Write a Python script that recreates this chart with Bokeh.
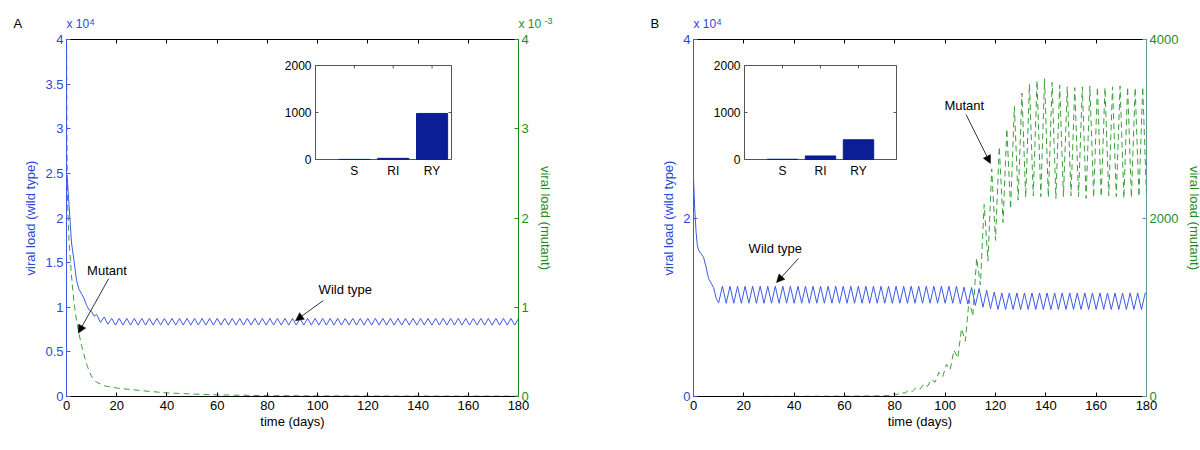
from bokeh.plotting import figure
from bokeh.models import (Range1d, LinearAxis, FixedTicker, Label, Arrow, NormalHead,
                          NumeralTickFormatter, CustomJSTickFormatter)
from bokeh.layouts import row, column
from bokeh.core.properties import value
from bokeh.embed import file_html
from bokeh.resources import INLINE

# ---------------- data ----------------
time_ticks = [0, 20, 40, 60, 80, 100, 120, 140, 160, 180]
categories = ["S", "RI", "RY"]
inset_ticks = [0, 1000, 2000]

# Panel A : wild type (x 10^4)
wt_A_t = [0, 0.3, 1, 2, 3, 4, 5, 6, 7, 8, 9, 10, 11, 12, 13.5, 15, 16.5,
          18, 19.5, 21, 22.5, 24, 25.5, 27, 28.5, 30, 31.5, 33, 34.5,
          36, 37.5, 39, 40.5, 42, 43.5, 45, 46.5, 48, 49.5, 51, 52.5,
          54, 55.5, 57, 58.5, 60, 61.5, 63, 64.5, 66, 67.5, 69, 70.5,
          72, 73.5, 75, 76.5, 78, 79.5, 81, 82.5, 84, 85.5, 87, 88.5,
          90, 91.5, 93, 94.5, 96, 97.5, 99, 100.5, 102, 103.5, 105, 106.5,
          108, 109.5, 111, 112.5, 114, 115.5, 117, 118.5, 120, 121.5, 123, 124.5,
          126, 127.5, 129, 130.5, 132, 133.5, 135, 136.5, 138, 139.5, 141, 142.5,
          144, 145.5, 147, 148.5, 150, 151.5, 153, 154.5, 156, 157.5, 159, 160.5,
          162, 163.5, 165, 166.5, 168, 169.5, 171, 172.5, 174, 175.5, 177, 178.5,
          180]
wt_A_v = [2.30, 2.45, 2.15, 1.72, 1.52, 1.30, 1.20, 1.15, 1.10, 1.02, 0.97, 0.95, 0.90, 0.92, 0.83, 0.89, 0.81,
          0.875, 0.80, 0.875, 0.80, 0.875, 0.80, 0.875, 0.80, 0.875, 0.80, 0.875, 0.80,
          0.875, 0.80, 0.875, 0.80, 0.875, 0.80, 0.875, 0.80, 0.875, 0.80, 0.875, 0.80,
          0.875, 0.80, 0.875, 0.80, 0.875, 0.80, 0.875, 0.80, 0.875, 0.80, 0.875, 0.80,
          0.875, 0.80, 0.875, 0.80, 0.875, 0.80, 0.875, 0.80, 0.875, 0.80, 0.875, 0.80,
          0.875, 0.80, 0.875, 0.80, 0.875, 0.80, 0.875, 0.80, 0.875, 0.80, 0.875, 0.80,
          0.875, 0.80, 0.875, 0.80, 0.875, 0.80, 0.875, 0.80, 0.875, 0.80, 0.875, 0.80,
          0.875, 0.80, 0.875, 0.80, 0.875, 0.80, 0.875, 0.80, 0.875, 0.80, 0.875, 0.80,
          0.875, 0.80, 0.875, 0.80, 0.875, 0.80, 0.875, 0.80, 0.875, 0.80, 0.875, 0.80,
          0.875, 0.80, 0.875, 0.80, 0.875, 0.80, 0.875, 0.80, 0.875, 0.80, 0.875, 0.80,
          0.875]

# Panel A : mutant (x 10^-3)
mut_A_t = [0, 0.15, 0.4, 1, 2, 3, 4, 5, 6, 8, 10, 12, 15, 20, 25, 30, 40, 50, 60, 80, 100, 130, 180]
mut_A_v = [4.5, 3.0, 2.2, 1.75, 1.35, 1.05, 0.85, 0.70, 0.57, 0.36, 0.22, 0.16, 0.12, 0.095, 0.08,
           0.065, 0.04, 0.028, 0.018, 0.01, 0.007, 0.005, 0.004]

# Panel B : wild type (x 10^4)
wt_B_t = [0, 0.5, 1, 1.5, 2, 3, 4, 5, 6, 7, 8, 9, 10,
          11.5, 13, 14.5, 16, 17.5, 19, 20.5, 22, 23.5, 25, 26.5, 28,
          29.5, 31, 32.5, 34, 35.5, 37, 38.5, 40, 41.5, 43, 44.5, 46,
          47.5, 49, 50.5, 52, 53.5, 55, 56.5, 58, 59.5, 61, 62.5, 64,
          65.5, 67, 68.5, 70, 71.5, 73, 74.5, 76, 77.5, 79, 80.5, 82,
          83.5, 85, 86.5, 88, 89.5, 91, 92.5, 94, 95.5, 97, 98.5, 100,
          101.5, 103, 104.5, 106, 107.5, 109, 110.5, 112, 113.5, 115, 116.5, 118,
          119.5, 121, 122.5, 124, 125.5, 127, 128.5, 130, 131.5, 133, 134.5, 136,
          137.5, 139, 140.5, 142, 143.5, 145, 146.5, 148, 149.5, 151, 152.5, 154,
          155.5, 157, 158.5, 160, 161.5, 163, 164.5, 166, 167.5, 169, 170.5, 172,
          173.5, 175, 176.5, 178, 179.5, 180]
wt_B_v = [2.45, 2.10, 1.85, 1.70, 1.64, 1.60, 1.56, 1.45, 1.32, 1.27, 1.22, 1.10, 1.05,
          1.235, 1.045, 1.235, 1.045, 1.235, 1.045, 1.235, 1.045, 1.235, 1.045, 1.235, 1.045,
          1.235, 1.045, 1.235, 1.045, 1.235, 1.045, 1.235, 1.045, 1.235, 1.045, 1.235, 1.045,
          1.235, 1.045, 1.235, 1.045, 1.235, 1.045, 1.235, 1.045, 1.235, 1.045, 1.235, 1.045,
          1.235, 1.045, 1.235, 1.045, 1.235, 1.045, 1.235, 1.045, 1.235, 1.045, 1.235, 1.045,
          1.235, 1.045, 1.235, 1.045, 1.235, 1.045, 1.235, 1.045, 1.235, 1.045, 1.235, 1.045,
          1.235, 1.045, 1.235, 1.04, 1.225, 1.035, 1.22, 1.02, 1.21, 1.00, 1.19, 0.985,
          1.17, 0.975, 1.16, 0.975, 1.16, 0.975, 1.16, 0.975, 1.16, 0.975, 1.16, 0.975,
          1.16, 0.975, 1.16, 0.975, 1.16, 0.975, 1.16, 0.975, 1.16, 0.975, 1.16, 0.975,
          1.16, 0.975, 1.16, 0.975, 1.16, 0.975, 1.16, 0.975, 1.16, 0.975, 1.16, 0.975,
          1.16, 0.975, 1.16, 0.975, 1.16, 1.15]

# Panel B : mutant (absolute)
mut_B_t = [0, 40, 60, 70, 75,
           78, 79.5, 81, 82.5, 84, 85.5, 87, 88.5, 90, 91.5, 93, 94.5,
           96, 97.5, 99, 100.5, 102, 103.5, 105, 106.5, 108, 109.5, 111, 112.5,
           114, 115.5, 117, 118.5, 120, 121.5, 123, 124.5, 126, 127.5, 129, 130.5,
           132, 133.5, 135, 136.5, 138, 139.5, 141, 142.5, 144, 145.5, 147, 148.5,
           150, 151.5, 153, 154.5, 156, 157.5, 159, 160.5, 162, 163.5, 165, 166.5,
           168, 169.5, 171, 172.5, 174, 175.5, 177, 178.5, 180]
mut_B_v = [0, 2, 4, 6, 8,
           10, 28, 22, 45, 38, 70, 58, 100, 82, 140, 115, 190,
           160, 270, 220, 360, 300, 520, 430, 760, 620, 1080, 900, 1550,
           1250, 2150, 1520, 2550, 1750, 2800, 1950, 3000, 2100, 3250, 2200, 3400,
           2230, 3500, 2250, 3540, 2240, 3560, 2230, 3520, 2220, 3490, 2240, 3470,
           2250, 3460, 2240, 3470, 2220, 3480, 2230, 3470, 2240, 3460, 2250, 3470,
           2240, 3480, 2220, 3470, 2230, 3460, 2240, 3470, 2250]

# Insets (bar charts)
inset_A = [2, 25, 980]
inset_B = [5, 75, 420]

# ---------------- style ----------------
FONT = "Liberation Sans"
BLUE_LINE = "#3d5ae6"
BLUE_TXT = "#2b48d6"
GREEN_LINE = "#3a9f3a"
GREEN_TXT = "#1f8c1f"
BAR = "#0c1e96"
INSET_EDGE = "#555555"
FH = 357
HEAD_H = 31


def style_axis(ax, line_color, text_color):
    ax.axis_line_color = line_color
    ax.major_tick_line_color = line_color
    ax.major_tick_in = 4
    ax.major_tick_out = 0
    ax.minor_tick_line_color = None
    ax.major_label_text_color = text_color
    ax.major_label_text_font = FONT
    ax.major_label_text_font_size = "13px"
    ax.major_label_standoff = 3
    ax.axis_label_text_font = FONT
    ax.axis_label_text_font_size = "13px"
    ax.axis_label_text_font_style = "normal"
    ax.axis_label_text_color = text_color


def make_panel(cfg):
    fw = cfg["fw"]
    p = figure(frame_width=fw, frame_height=FH, output_backend="svg", toolbar_location=None,
               x_range=Range1d(0, 180), y_range=Range1d(0, 4),
               min_border_left=cfg["mbl"], min_border_right=cfg["mbr"],
               min_border_top=39 - HEAD_H, min_border_bottom=46)
    p.title.visible = False
    p.outline_line_color = None
    p.xgrid.visible = False
    p.ygrid.visible = False
    p.background_fill_color = "white"
    p.border_fill_color = "white"

    # inset placement (frame pixels) -> extra ranges
    il, ir, it, ib = cfg["inset_box"]
    xmax = cfg["inset_xmax"]
    kx = xmax / (ir - il)
    xs = -il * kx
    ky = 2000.0 / (ib - it)
    ys = -(FH - ib) * ky
    p.extra_x_ranges = {"insx": Range1d(xs, xs + fw * kx)}
    p.extra_y_ranges = {"mut": Range1d(0, cfg["rmax"]), "insy": Range1d(ys, ys + FH * ky)}

    # bottom axis
    xa = p.xaxis[0]
    xa.ticker = FixedTicker(ticks=time_ticks)
    xa.axis_label = "time (days)"
    style_axis(xa, "black", "black")
    xa.major_label_standoff = 4
    xa.axis_label_standoff = 1

    # top axis (box ticks only)
    ta = LinearAxis(ticker=FixedTicker(ticks=time_ticks),
                    formatter=CustomJSTickFormatter(code="return ''"))
    style_axis(ta, "black", "black")
    ta.major_label_text_font_size = "0px"
    ta.major_label_standoff = 0
    p.add_layout(ta, "above")

    # left axis
    ya = p.yaxis[0]
    ya.ticker = FixedTicker(ticks=cfg["lticks"])
    ya.formatter = NumeralTickFormatter(format="0.[0]")
    ya.axis_label = "viral load (wild type)"
    style_axis(ya, BLUE_LINE, BLUE_TXT)
    ya.axis_label_standoff = 4

    # right axis
    ra = LinearAxis(y_range_name="mut", ticker=FixedTicker(ticks=cfg["rticks"]),
                    formatter=NumeralTickFormatter(format="0.[0]"),
                    axis_label="viral load (mutant)")
    style_axis(ra, cfg["raxis_color"], GREEN_TXT)
    ra.axis_label_standoff = 6
    p.add_layout(ra, "right")

    # curves
    p.line(cfg["mut_t"], cfg["mut_v"], y_range_name="mut", line_color=GREEN_LINE,
           line_width=1, line_dash="6 4")
    p.line(cfg["wt_t"], cfg["wt_v"], line_color=BLUE_LINE, line_width=1)

    # inset
    kw = dict(x_range_name="insx", y_range_name="insy")
    p.quad(left=0, right=xmax, bottom=0, top=2000, fill_color="white",
           line_color=INSET_EDGE, line_width=1, **kw)
    p.vbar(x=[1, 2, 3], width=0.8, bottom=0, top=cfg["inset_vals"],
           fill_color=BAR, line_color=BAR, **kw)
    tlx = 3 * kx
    tly = 3 * ky
    p.segment(x0=[0] * 3, y0=inset_ticks, x1=[tlx] * 3, y1=inset_ticks, line_color=INSET_EDGE, **kw)
    p.segment(x0=[xmax] * 3, y0=inset_ticks, x1=[xmax - tlx] * 3, y1=inset_ticks, line_color=INSET_EDGE, **kw)
    p.segment(x0=[1, 2, 3], y0=[2000] * 3, x1=[1, 2, 3], y1=[2000 - tly] * 3, line_color=INSET_EDGE, **kw)
    p.text(x=[0] * 3, y=inset_ticks, text=[str(v) for v in inset_ticks], x_offset=-4,
           text_align="right", text_baseline="middle", text_font=value(FONT),
           text_font_size="12px", text_color="black", **kw)
    p.text(x=[1, 2, 3], y=[0] * 3, text=categories, y_offset=4,
           text_align="center", text_baseline="top", text_font=value(FONT),
           text_font_size="12px", text_color="black", **kw)

    # annotations
    for txt, tx, ty, x0, y0, x1, y1 in cfg["notes"]:
        p.add_layout(Label(x=tx, y=ty, text=txt, text_baseline="middle", text_font=FONT,
                           text_font_size="13px", text_color="black"))
        p.add_layout(Arrow(x_start=x0, y_start=y0, x_end=x1, y_end=y1, line_color="black",
                           line_width=0.8,
                           end=NormalHead(size=8, fill_color="black", line_color="black",
                                          line_width=0.5)))
    return p


pA = make_panel(dict(
    fw=452, mbl=66, mbr=82,
    wt_t=wt_A_t, wt_v=wt_A_v, mut_t=mut_A_t, mut_v=mut_A_v,
    lticks=[0, 0.5, 1, 1.5, 2, 2.5, 3, 3.5, 4],
    rmax=4, rticks=[0, 1, 2, 3, 4], raxis_color=GREEN_TXT,
    inset_box=(249, 385, 26, 120), inset_xmax=3.5, inset_vals=inset_A,
    notes=[("Mutant", 8.2, 1.41, 16.8, 1.32, 4.7, 0.71),
           ("Wild type", 100.4, 1.2, 102.3, 1.076, 91.2, 0.85)],
))

pB = make_panel(dict(
    fw=453, mbl=93, mbr=54,
    wt_t=wt_B_t, wt_v=wt_B_v, mut_t=mut_B_t, mut_v=mut_B_v,
    lticks=[0, 2, 4],
    rmax=4000, rticks=[0, 2000, 4000], raxis_color="#5f9c95",
    inset_box=(51, 203, 26, 120), inset_xmax=4, inset_vals=inset_B,
    notes=[("Wild type", 21.9, 1.66, 41.7, 1.546, 33.0, 1.277),
           ("Mutant", 99.7, 3.26, 108.3, 3.16, 118.0, 2.61)],
))

# ---------------- header strip: panel letters and axis multipliers ----------------
hdr = figure(frame_width=1200, frame_height=HEAD_H, x_range=Range1d(0, 1200),
             y_range=Range1d(HEAD_H, 0),
             x_axis_location=None, y_axis_location=None, toolbar_location=None,
             output_backend="svg", min_border=0)
hdr.title.visible = False
hdr.outline_line_color = None
hdr.grid.visible = False
hdr.background_fill_color = "white"
hdr.border_fill_color = "white"

head_items = [
    # text, x(px), y of text-box bottom (px), size, color
    ("A", 13, 30.5, "13px", "black"),
    ("x 10", 66, 30.5, "12px", BLUE_TXT),
    ("4", 89, 24.5, "9px", BLUE_TXT),
    ("x 10", 518, 30.5, "12px", GREEN_TXT),
    ("-3", 544, 23.5, "9px", GREEN_TXT),
    ("B", 650, 30.5, "13px", "black"),
    ("x 10", 693, 30.5, "12px", BLUE_TXT),
    ("4", 716, 24.5, "9px", BLUE_TXT),
]
for txt, hx, hy, fs, col in head_items:
    hdr.text(x=[hx], y=[hy], text=[txt], text_align="left", text_baseline="bottom",
             text_font=value(FONT), text_font_size=fs, text_color=col)

layout = column(hdr, row(pA, pB))
open("out.html", "w").write(file_html(layout, INLINE))
